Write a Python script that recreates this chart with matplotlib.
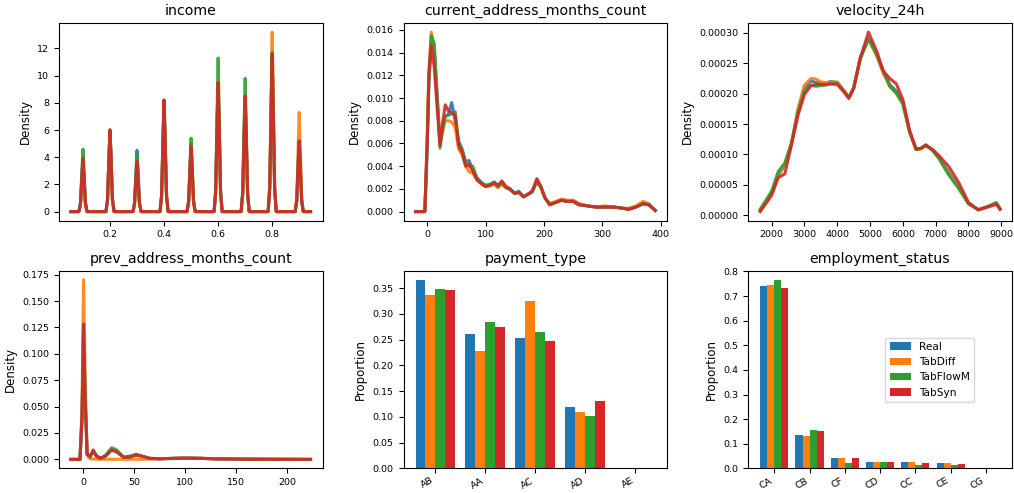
import matplotlib
matplotlib.use("Agg")
import matplotlib.pyplot as plt
import numpy as np

series = ["Real", "TabDiff", "TabFlowM", "TabSyn"]
colors = ["#1f77b4", "#ff7f0e", "#2ca02c", "#d62728"]

# income (density curves)
inc_x = [0.055,
         0.085, 0.091, 0.096, 0.1, 0.104, 0.109, 0.115,
         0.185, 0.191, 0.196, 0.2, 0.204, 0.209, 0.215,
         0.285, 0.291, 0.296, 0.3, 0.304, 0.309, 0.315,
         0.385, 0.391, 0.396, 0.4, 0.404, 0.409, 0.415,
         0.485, 0.491, 0.496, 0.5, 0.504, 0.509, 0.515,
         0.585, 0.591, 0.596, 0.6, 0.604, 0.609, 0.615,
         0.685, 0.691, 0.696, 0.7, 0.704, 0.709, 0.715,
         0.785, 0.791, 0.796, 0.8, 0.804, 0.809, 0.815,
         0.885, 0.891, 0.896, 0.9, 0.904, 0.909, 0.915,
         0.942]
inc_real = [0,
            0, 0.6, 2.6, 4.0, 2.6, 0.6, 0,
            0, 0.9, 3.9, 6.0, 3.9, 0.9, 0,
            0, 0.7, 2.9, 4.5, 2.9, 0.7, 0,
            0, 1.2, 5.3, 8.2, 5.3, 1.2, 0,
            0, 0.8, 3.3, 5.0, 3.3, 0.8, 0,
            0, 1.4, 6.2, 9.5, 6.2, 1.4, 0,
            0, 1.3, 5.5, 8.5, 5.5, 1.3, 0,
            0, 1.7, 7.5, 11.6, 7.5, 1.7, 0,
            0, 0.8, 3.4, 5.2, 3.4, 0.8, 0,
            0]
inc_tabdiff = [0,
               0, 0.6, 2.5, 3.9, 2.5, 0.6, 0,
               0, 0.9, 3.9, 6.0, 3.9, 0.9, 0,
               0, 0.6, 2.4, 3.7, 2.4, 0.6, 0,
               0, 1.2, 5.3, 8.1, 5.3, 1.2, 0,
               0, 0.7, 3.1, 4.8, 3.1, 0.7, 0,
               0, 1.4, 6.2, 9.5, 6.2, 1.4, 0,
               0, 1.3, 5.5, 8.5, 5.5, 1.3, 0,
               0, 2.0, 8.6, 13.2, 8.6, 2.0, 0,
               0, 1.1, 4.7, 7.3, 4.7, 1.1, 0,
               0]
inc_tabflowm = [0,
                0, 0.7, 3.0, 4.6, 3.0, 0.7, 0,
                0, 0.9, 3.9, 6.0, 3.9, 0.9, 0,
                0, 0.6, 2.7, 4.2, 2.7, 0.6, 0,
                0, 1.2, 5.3, 8.2, 5.3, 1.2, 0,
                0, 0.8, 3.5, 5.4, 3.5, 0.8, 0,
                0, 1.7, 7.3, 11.3, 7.3, 1.7, 0,
                0, 1.5, 6.4, 9.8, 6.4, 1.5, 0,
                0, 1.8, 7.6, 11.7, 7.6, 1.8, 0,
                0, 0.8, 3.4, 5.2, 3.4, 0.8, 0,
                0]
inc_tabsyn = [0,
              0, 0.6, 2.5, 3.9, 2.5, 0.6, 0,
              0, 0.9, 3.9, 6.0, 3.9, 0.9, 0,
              0, 0.6, 2.4, 3.7, 2.4, 0.6, 0,
              0, 1.2, 5.3, 8.2, 5.3, 1.2, 0,
              0, 0.7, 3.1, 4.8, 3.1, 0.7, 0,
              0, 1.4, 6.2, 9.5, 6.2, 1.4, 0,
              0, 1.3, 5.5, 8.5, 5.5, 1.3, 0,
              0, 1.7, 7.5, 11.6, 7.5, 1.7, 0,
              0, 0.8, 3.4, 5.2, 3.4, 0.8, 0,
              0]

# current_address_months_count
cur_x = [-20, -4, 0, 3, 7, 12, 17, 22, 27, 31, 36, 42, 48, 54, 60, 66, 72, 78,
         85, 92, 100, 108, 115, 121, 128, 135, 142, 150, 157, 165, 172, 180,
         188, 195, 202, 210, 220, 230, 240, 250, 260, 275, 290, 305, 320, 335,
         345, 358, 370, 380, 391]
cur_real = [0, 0, 0.0055, 0.0115, 0.0148, 0.0145, 0.0105, 0.0062, 0.0075, 0.0084,
            0.0085, 0.0096, 0.0080, 0.0062, 0.0055, 0.0044, 0.0045, 0.0036, 0.0030,
            0.0026, 0.0023, 0.0024, 0.0026, 0.0023, 0.0026, 0.0022, 0.0020, 0.0016,
            0.0018, 0.0013, 0.0015, 0.0018, 0.0027, 0.0022, 0.0012, 0.0007, 0.0008,
            0.0010, 0.0009, 0.0010, 0.0007, 0.0005, 0.0004, 0.0004, 0.0004, 0.0003,
            0.0002, 0.0004, 0.0007, 0.0006, 0.0001]
cur_tabdiff = [0, 0, 0.0065, 0.0125, 0.0158, 0.0145, 0.0100, 0.0060, 0.0072, 0.0080,
               0.0080, 0.0079, 0.0074, 0.0055, 0.0050, 0.0040, 0.0035, 0.0034, 0.0028,
               0.0025, 0.0022, 0.0023, 0.0024, 0.0021, 0.0024, 0.0021, 0.0019, 0.0016,
               0.0017, 0.0013, 0.0015, 0.0018, 0.0028, 0.0021, 0.0012, 0.0007, 0.0009,
               0.0011, 0.0010, 0.0010, 0.0007, 0.0005, 0.0004, 0.0005, 0.0004, 0.0003,
               0.0003, 0.0005, 0.0009, 0.0007, 0.0001]
cur_tabflowm = [0, 0, 0.006, 0.012, 0.0155, 0.0148, 0.0100, 0.0056, 0.0074, 0.0084,
                0.0085, 0.0086, 0.0088, 0.0060, 0.0054, 0.0042, 0.0040, 0.0040, 0.0030,
                0.0026, 0.0023, 0.0024, 0.0026, 0.0022, 0.0025, 0.0021, 0.0020, 0.0016,
                0.0017, 0.0013, 0.0015, 0.0017, 0.0026, 0.0021, 0.0012, 0.0006, 0.0008,
                0.0010, 0.0009, 0.0009, 0.0006, 0.0005, 0.0004, 0.0004, 0.0004, 0.0003,
                0.0002, 0.0004, 0.0007, 0.0006, 0.0001]
cur_tabsyn = [0, 0, 0.006, 0.012, 0.0146, 0.0128, 0.0092, 0.0058, 0.0080, 0.0094,
              0.0089, 0.0087, 0.0085, 0.0058, 0.0052, 0.0040, 0.0042, 0.0036, 0.0028,
              0.0025, 0.0022, 0.0023, 0.0025, 0.0023, 0.0027, 0.0022, 0.0020, 0.0016,
              0.0017, 0.0013, 0.0015, 0.0018, 0.0029, 0.0022, 0.0012, 0.0006, 0.0008,
              0.0010, 0.0009, 0.0009, 0.0006, 0.0005, 0.0004, 0.0004, 0.0004, 0.0003,
              0.0002, 0.0004, 0.0007, 0.0006, 0.0001]

# velocity_24h
vel_x = [1650, 2000, 2200, 2400, 2600, 2800, 3000, 3200, 3350, 3500, 3650, 3800,
         4000, 4200, 4350, 4500, 4700, 4950, 5200, 5400, 5600, 5800, 6000, 6200,
         6400, 6550, 6700, 6900, 7100, 7400, 7700, 8000, 8300, 8600, 8850, 8960]
vel_real = [0.000008, 0.000036, 0.000066, 0.000082, 0.000117, 0.000172, 0.000210,
            0.000221, 0.000218, 0.000218, 0.000217, 0.000220, 0.000218, 0.000205,
            0.000194, 0.000210, 0.000259, 0.000290, 0.000265, 0.000237, 0.000215,
            0.000204, 0.000185, 0.000139, 0.000109, 0.000110, 0.000115, 0.000108,
            0.000096, 0.000070, 0.000046, 0.000019, 0.000009, 0.000014, 0.000019,
            0.000010]
vel_tabdiff = [0.000008, 0.000037, 0.000068, 0.000083, 0.000118, 0.000175, 0.000214,
               0.000225, 0.000224, 0.000219, 0.000218, 0.000219, 0.000219, 0.000205,
               0.000194, 0.000210, 0.000258, 0.000290, 0.000262, 0.000233, 0.000212,
               0.000200, 0.000183, 0.000138, 0.000108, 0.000109, 0.000114, 0.000107,
               0.000094, 0.000068, 0.000045, 0.000019, 0.000009, 0.000014, 0.000019,
               0.000010]
vel_tabflowm = [0.000010, 0.000040, 0.000072, 0.000086, 0.000118, 0.000168, 0.000205,
                0.000214, 0.000212, 0.000213, 0.000214, 0.000216, 0.000217, 0.000204,
                0.000193, 0.000209, 0.000257, 0.000290, 0.000264, 0.000238, 0.000212,
                0.000201, 0.000183, 0.000137, 0.000108, 0.000110, 0.000116, 0.000107,
                0.000093, 0.000066, 0.000044, 0.000019, 0.000009, 0.000015, 0.000021,
                0.000011]
vel_tabsyn = [0.000006, 0.000033, 0.000062, 0.000068, 0.000115, 0.000164, 0.000199,
              0.000213, 0.000215, 0.000215, 0.000215, 0.000216, 0.000215, 0.000203,
              0.000192, 0.000208, 0.000258, 0.000301, 0.000270, 0.000237, 0.000225,
              0.000216, 0.000190, 0.000140, 0.000109, 0.000110, 0.000115, 0.000108,
              0.000098, 0.000080, 0.000054, 0.000021, 0.000009, 0.000014, 0.000018,
              0.000010]

# prev_address_months_count
prev_x = [-12, -3, -1, 0.5, 2, 4, 7, 10, 13, 17, 22, 28, 33, 40, 46, 52, 58, 65,
          75, 90, 100, 115, 130, 160, 190, 223]
prev_real = [0, 0, 0.04, 0.128, 0.06, 0.005, 0.003, 0.008, 0.004, 0.001, 0.003,
             0.009, 0.007, 0.002, 0.003, 0.004, 0.003, 0.001, 0.0006, 0.001, 0.0012,
             0.001, 0.0005, 0.0002, 0.0001, 0]
prev_tabdiff = [0, 0, 0.05, 0.170, 0.08, 0.004, 0.0005, 0.0003, 0.0002, 0.0001,
                0.0001, 0.0001, 0.0001, 0.0001, 0.0001, 0.0001, 0.0001, 0.0002,
                0.0005, 0.001, 0.0012, 0.001, 0.0005, 0.0002, 0.0001, 0]
prev_tabflowm = [0, 0, 0.04, 0.128, 0.06, 0.005, 0.002, 0.008, 0.003, 0.001, 0.004,
                 0.011, 0.009, 0.002, 0.003, 0.005, 0.003, 0.001, 0.0006, 0.001,
                 0.0012, 0.001, 0.0005, 0.0002, 0.0001, 0]
prev_tabsyn = [0, 0, 0.04, 0.128, 0.06, 0.005, 0.003, 0.009, 0.003, 0.001, 0.003,
               0.009, 0.007, 0.002, 0.002, 0.004, 0.003, 0.001, 0.0005, 0.001,
               0.0012, 0.001, 0.0005, 0.0002, 0.0001, 0]

# payment_type
pay_cats = ["AB", "AA", "AC", "AD", "AE"]
pay_real = [0.365, 0.260, 0.253, 0.120, 0.0003]
pay_tabdiff = [0.337, 0.227, 0.324, 0.110, 0.0002]
pay_tabflowm = [0.349, 0.284, 0.265, 0.101, 0.0002]
pay_tabsyn = [0.347, 0.274, 0.248, 0.131, 0.0002]

# employment_status
emp_cats = ["CA", "CB", "CF", "CD", "CC", "CE", "CG"]
emp_real = [0.741, 0.137, 0.043, 0.025, 0.024, 0.021, 0.0005]
emp_tabdiff = [0.745, 0.133, 0.043, 0.025, 0.024, 0.020, 0.0004]
emp_tabflowm = [0.764, 0.157, 0.023, 0.025, 0.012, 0.013, 0.0003]
emp_tabsyn = [0.734, 0.153, 0.043, 0.025, 0.023, 0.017, 0.0004]

kde_panels = [
    ("income", inc_x, [inc_real, inc_tabdiff, inc_tabflowm, inc_tabsyn]),
    ("current_address_months_count", cur_x, [cur_real, cur_tabdiff, cur_tabflowm, cur_tabsyn]),
    ("velocity_24h", vel_x, [vel_real, vel_tabdiff, vel_tabflowm, vel_tabsyn]),
    ("prev_address_months_count", prev_x, [prev_real, prev_tabdiff, prev_tabflowm, prev_tabsyn]),
]
bar_panels = [
    ("payment_type", pay_cats, [pay_real, pay_tabdiff, pay_tabflowm, pay_tabsyn]),
    ("employment_status", emp_cats, [emp_real, emp_tabdiff, emp_tabflowm, emp_tabsyn]),
]

TITLE_FS = 10.2
LABEL_FS = 8.5
TICK_FS = 6.8

fig, axes = plt.subplots(2, 3, figsize=(10.14, 4.93), dpi=100)
axes = axes.flatten()

for ax, (name, xs, ys) in zip(axes[:4], kde_panels):
    for y, c, s in zip(ys, colors, series):
        ax.plot(xs, y, color=c, lw=2.2, alpha=0.9, label=s)
    ax.set_title(name, fontsize=TITLE_FS)
    ax.set_ylabel("Density", fontsize=LABEL_FS)
    ax.tick_params(labelsize=TICK_FS)

width = 0.2
for ax, (name, cats, vals) in zip(axes[4:], bar_panels):
    pos = np.arange(len(cats))
    for i, (v, c, s) in enumerate(zip(vals, colors, series)):
        ax.bar(pos + (i - 1.5) * width, v, width, color=c, label=s)
    ax.set_xticks(pos)
    ax.set_xticklabels(cats, rotation=30, ha="right")
    ax.set_title(name, fontsize=TITLE_FS)
    ax.set_ylabel("Proportion", fontsize=LABEL_FS)
    ax.tick_params(labelsize=TICK_FS)
    ax.tick_params(axis="x", pad=2)

axes[5].legend(loc="center left", bbox_to_anchor=(0.50, 0.5), fontsize=7.6)

plt.subplots_adjust(left=0.058, right=0.998, top=0.953, bottom=0.05,
                    wspace=0.307, hspace=0.255)
plt.savefig("out.png", dpi=100)
